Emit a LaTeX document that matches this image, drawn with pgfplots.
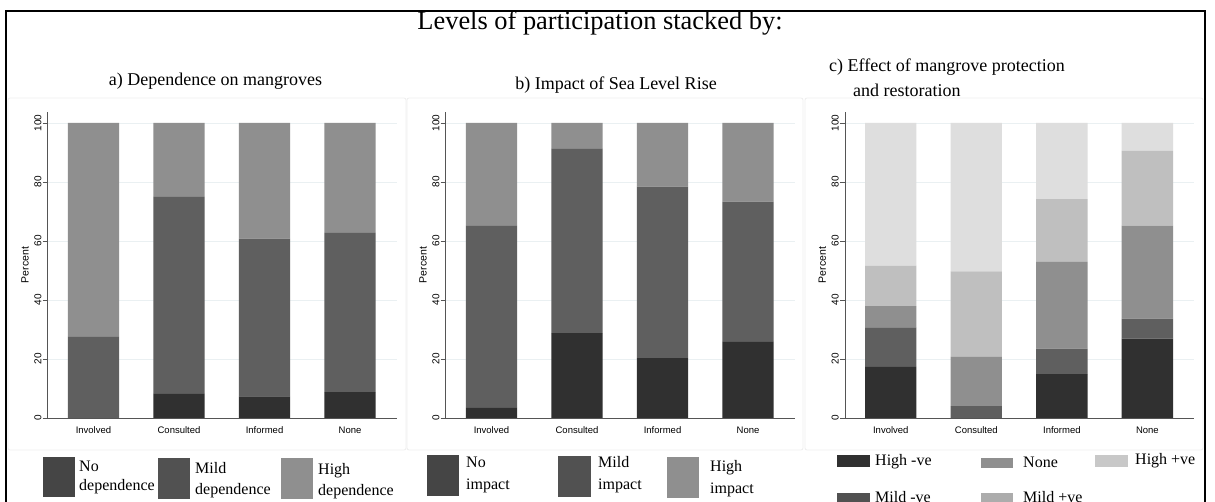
\documentclass[border=0pt]{standalone}
\usepackage{pgfplots}
\pgfplotsset{compat=1.18}
\usepackage{fontspec}
\setmainfont{Liberation Serif}
\setsansfont{Liberation Sans}

\definecolor{cA}{HTML}{303030}
\definecolor{cB}{HTML}{5F5F5F}
\definecolor{cC}{HTML}{8F8F8F}
\definecolor{cD}{HTML}{BFBFBF}
\definecolor{cE}{HTML}{DEDEDE}
\definecolor{gridc}{RGB}{234,240,242}
\definecolor{axc}{HTML}{555555}
\definecolor{panelc}{HTML}{EEEEEE}

\pgfplotsset{
  panel/.style={
    scale only axis,
    width=349pt, height=306pt,
    anchor=south west,
    xmin=-0.535, xmax=3.545,
    ymin=0, ymax=103.7,
    axis lines*=left,
    axis line style={axc, line width=0.6pt},
    ybar stacked,
    bar width=51.3pt,
    xtick={0,1,2,3},
    xticklabels={Involved,Consulted,Informed,None},
    x tick style={draw=none},
    ytick={0,20,40,60,80,100},
    y tick style={axc, line width=0.6pt},
    tick align=outside,
    major tick length=5pt,
    ymajorgrids,
    grid style={gridc, line width=0.8pt},
    /pgf/number format/assume math mode=true,
    yticklabel style={rotate=90, anchor=south, font=\sffamily\fontsize{10}{10}\selectfont, inner sep=1pt},
    xticklabel style={font=\sffamily\fontsize{9.5}{10}\selectfont},
    ylabel={Percent},
    every axis y label/.style={at={([xshift=-22.7pt]axis description cs:0,0.5)}, rotate=90, anchor=center, font=\sffamily\fontsize{10.5}{11}\selectfont},
    every axis plot/.append style={draw=none},
  }
}

\newcommand{\lbox}[5]{\fill[#5] (#1,{502-#2}) rectangle (#3,{502-#4});}
\newcommand{\ltxt}[3]{\node[anchor=base west, inner sep=0pt, font=\fontsize{16}{16}\selectfont] at (#1,{502-#2}) {#3};}

\begin{document}
\begin{tikzpicture}[x=1pt,y=1pt]
\useasboundingbox (0,0) rectangle (1215,502);
\fill[white] (0,0) rectangle (1215,502);
\coordinate (pa) at (47.7,84);
\coordinate (pb) at (445.7,84);
\coordinate (pc) at (845,84);

% panel regions
\draw[panelc, line width=0.8pt, rounded corners=2pt] (8,{502-450}) rectangle (406,{502-98});
\draw[panelc, line width=0.8pt, rounded corners=2pt] (407,{502-450}) rectangle (803,{502-98});
\draw[panelc, line width=0.8pt, rounded corners=2pt] (805,{502-450}) rectangle (1203,{502-98});

% titles
\node[anchor=base, inner sep=0pt, font=\fontsize{26.4}{26.4}\selectfont] at (600,{502-29.5}) {Levels of participation stacked by:};
\node[anchor=base, inner sep=0pt, font=\fontsize{18}{18}\selectfont] at (215.5,{502-86}) {a) Dependence on mangroves};
\node[anchor=base, inner sep=0pt, font=\fontsize{18}{18}\selectfont] at (616,{502-90}) {b) Impact of Sea Level Rise};
\node[anchor=base west, inner sep=0pt, font=\fontsize{18}{18}\selectfont] at (829,{502-72}) {c) Effect of mangrove protection};
\node[anchor=base west, inner sep=0pt, font=\fontsize{18}{18}\selectfont] at (853,{502-96.5}) {and restoration};

% panel a
\begin{axis}[panel, at={(pa)}]
\addplot[fill=cA] coordinates {(0,0) (1,8.2) (2,7.3) (3,8.8)};
\addplot[fill=cB] coordinates {(0,27.5) (1,66.7) (2,53.5) (3,53.9)};
\addplot[fill=cC] coordinates {(0,72.5) (1,25.1) (2,39.2) (3,37.3)};
\end{axis}

% panel b
\begin{axis}[panel, at={(pb)}]
\addplot[fill=cA] coordinates {(0,3.4) (1,28.8) (2,20.3) (3,25.8)};
\addplot[fill=cB] coordinates {(0,61.9) (1,62.6) (2,58.1) (3,47.5)};
\addplot[fill=cC] coordinates {(0,34.7) (1,8.6) (2,21.6) (3,26.7)};
\end{axis}

% panel c
\begin{axis}[panel, at={(pc)}]
\addplot[fill=cA] coordinates {(0,17.3) (1,0) (2,14.9) (3,26.9)};
\addplot[fill=cB] coordinates {(0,13.4) (1,4.0) (2,8.6) (3,6.8)};
\addplot[fill=cC] coordinates {(0,7.2) (1,16.7) (2,29.4) (3,31.5)};
\addplot[fill=cD] coordinates {(0,13.7) (1,29.0) (2,21.3) (3,25.3)};
\addplot[fill=cE] coordinates {(0,48.4) (1,50.3) (2,25.8) (3,9.5)};
\end{axis}

% legend a
\lbox{43}{457}{75}{497}{cA!90!white}
\ltxt{79}{472}{No}
\ltxt{79}{491}{dependence}
\lbox{158}{458}{190}{499}{cB!85!black}
\ltxt{195}{474}{Mild}
\ltxt{195}{495}{dependence}
\lbox{281}{458}{313}{499}{cC}
\ltxt{318}{475}{High}
\ltxt{318}{496}{dependence}

% legend b
\lbox{427}{455}{459}{496}{cA!90!white}
\ltxt{466}{468}{No}
\ltxt{466}{490}{impact}
\lbox{558}{456}{591}{497}{cB!85!black}
\ltxt{598}{468}{Mild}
\ltxt{598}{490}{impact}
\lbox{667}{457}{699}{498}{cC}
\ltxt{710}{472}{High}
\ltxt{710}{494}{impact}

% legend c
\lbox{837}{455}{870}{467}{cA}
\ltxt{875}{466}{High -ve}
\lbox{981}{458}{1013}{468}{cC}
\ltxt{1023}{468}{None}
\lbox{1095}{455}{1128}{467}{cE!90!black}
\ltxt{1135}{465}{High +ve}
\lbox{837}{493}{870}{506}{cB!85!black}
\ltxt{875}{503}{Mild -ve}
\lbox{981}{493}{1013}{506}{cD!90!black}
\ltxt{1023}{503}{Mild +ve}

% outer frame (open at bottom)
\draw[black, line width=1.6pt] (6,-5) -- (6,{502-11}) -- (1205,{502-11}) -- (1205,-5);
\end{tikzpicture}
\end{document}
